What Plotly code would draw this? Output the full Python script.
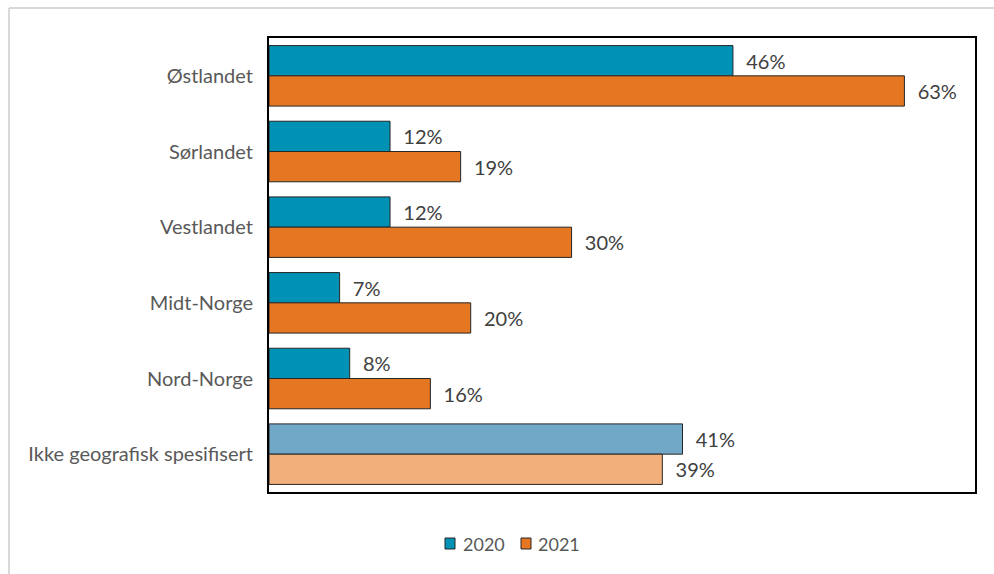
import plotly.graph_objects as go

categories = ["Østlandet", "Sørlandet", "Vestlandet", "Midt-Norge", "Nord-Norge",
              "Ikke geografisk spesifisert"]
values_2020 = [0.46, 0.12, 0.12, 0.07, 0.08, 0.41]
values_2021 = [0.63, 0.19, 0.30, 0.20, 0.16, 0.39]
series_names = ["2020", "2021"]

colors_2020 = ["#0092B4"] * 5 + ["#72A8C7"]
colors_2021 = ["#E67722"] * 5 + ["#F1AF7B"]

FONT = "Lato, Source Sans Pro, sans-serif"
W, H = 994, 574
L, R, T, B = 269, 19, 38, 82
pw, ph = W - L - R, H - T - B


def px_x(p):
    return (p - L) / pw


def px_y(p):
    return 1 - (p - T) / ph


def pct(vals):
    return ["\u00a0\u00a0" + f"{round(v * 100)}%" for v in vals]


fig = go.Figure()
for name, vals, cols in [(series_names[0], values_2020, colors_2020),
                         (series_names[1], values_2021, colors_2021)]:
    fig.add_trace(go.Bar(
        y=categories, x=vals, name=name, orientation="h",
        marker=dict(color=cols, line=dict(color="#262626", width=1)),
        text=pct(vals), textposition="outside", cliponaxis=False,
        textfont=dict(size=20, color="#404040", family=FONT),
        showlegend=False,
    ))

# outer light frame of the chart
fig.add_shape(type="line", xref="paper", yref="paper",
              x0=px_x(9), x1=px_x(1010), y0=px_y(8), y1=px_y(8),
              line=dict(color="#D9D9D9", width=2), layer="below")
fig.add_shape(type="line", xref="paper", yref="paper",
              x0=px_x(9), x1=px_x(9), y0=px_y(8), y1=px_y(600),
              line=dict(color="#D9D9D9", width=2), layer="below")

# legend: coloured keys with labels below the plot
legend_items = [(series_names[0], colors_2020[0], 445, 461),
                (series_names[1], colors_2021[0], 521, 536)]
for name, col, sx, tx in legend_items:
    fig.add_shape(type="rect", xref="paper", yref="paper",
                  x0=px_x(sx), x1=px_x(sx + 10), y0=px_y(538), y1=px_y(549),
                  fillcolor=col, line=dict(color="#262626", width=1))
    fig.add_annotation(xref="paper", yref="paper", x=px_x(tx), y=px_y(543.5),
                       xanchor="left", yanchor="middle", showarrow=False,
                       text=name, font=dict(size=18, color="#595959", family=FONT))

fig.update_layout(
    width=W, height=H,
    margin=dict(l=L, r=R, t=T, b=B),
    paper_bgcolor="white", plot_bgcolor="white",
    barmode="group", bargap=0.2, bargroupgap=0,
    font=dict(family=FONT, color="#595959"),
    showlegend=False,
    xaxis=dict(range=[0, 0.7], showgrid=False, zeroline=False,
               showticklabels=False, ticks="",
               showline=True, mirror=True, linecolor="#000000", linewidth=1.5),
    yaxis=dict(autorange="reversed", showgrid=False, zeroline=False,
               showline=True, mirror=True, linecolor="#000000", linewidth=2,
               ticks="", ticklabelstandoff=10,
               tickfont=dict(size=20, color="#595959", family=FONT)),
)

fig.write_html("out.html")
